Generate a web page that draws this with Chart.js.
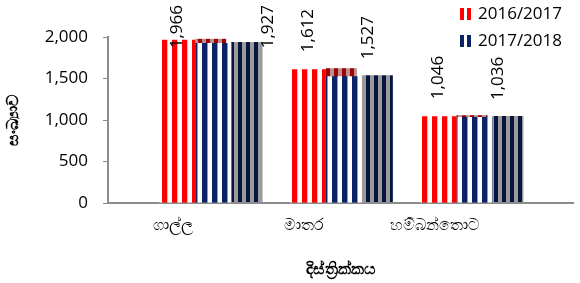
<!DOCTYPE html>
<html>
<head>
<meta charset="utf-8">
<script src="https://cdn.jsdelivr.net/npm/chart.js@4"></script>
<style>
  html, body { margin: 0; padding: 0; background: #fff; }
  #wrap { width: 580px; height: 283px; }
</style>
</head>
<body>
<div id="wrap"><canvas id="distChart" width="580" height="283"></canvas></div>
<script>
const districts = ['ගාල්ල', 'මාතර', 'හම්බන්තොට'];
const seriesNames = ['2016/2017', '2017/2018'];
const values2016 = [1966, 1612, 1046];
const values2017 = [1927, 1527, 1036];
const yTicks = [0, 500, 1000, 1500, 2000];

const yTitle = 'සංඛ්‍යාව';
const xTitle = 'දිස්ත්‍රික්කය';

const FONT = '"Open Sans", "Noto Sans", sans-serif';
const RED = '#ff0000';
const NAVY = '#0a2366';

// vertical stripe pattern, like the excel fill. cols = one colour per pixel column
function stripes(cols) {
    const c = document.createElement('canvas');
    c.width = cols.length;
    c.height = 4;
    const g = c.getContext('2d');
    cols.forEach((col, i) => {
        g.fillStyle = col;
        g.fillRect(i, 0, 1, 4);
    });
    return g.createPattern(c, 'repeat');
}

const ctx = document.getElementById('distChart').getContext('2d');

const P = '#ffb0b0', W = '#ffffff', R = RED, N = NAVY, B = '#8f9ab8';
const frontFill = [
    stripes([R, R, R, R, R, P, W, W, W, W]),
    stripes([N, N, N, N, N, B, W, W, W, W])
];
const DR = '#a30000', GR = '#b89090', DN = '#061640', G = '#9b9b9b';
const sideFill = [stripes([DR, DR, DR, DR, GR, GR, GR, GR]), stripes([DN, DN, DN, DN, G, G, G, G])];

const SHIFT = 22;   // 3d offset of the bars to the right
const DEPTH = 31;   // width of the side faces

const bars3d = {
    id: 'bars3d',
    beforeDatasetsDraw(chart) {
        const c = chart.ctx;
        const base = chart.scales.y.getPixelForValue(0);
        c.save();
        c.translate(SHIFT, 0);
        chart.data.datasets.forEach((ds, di) => {
            chart.getDatasetMeta(di).data.forEach(bar => {
                const right = bar.x + bar.width / 2;
                c.fillStyle = sideFill[di];
                c.fillRect(right, bar.y - 1, DEPTH, base - bar.y);
            });
        });
    },
    afterDatasetsDraw(chart) {
        const c = chart.ctx;
        c.font = '17px ' + FONT;
        c.fillStyle = '#000';
        c.textAlign = 'left';
        c.textBaseline = 'middle';
        chart.data.datasets.forEach((ds, di) => {
            chart.getDatasetMeta(di).data.forEach((bar, i) => {
                const txt = ds.data[i].y.toLocaleString('en-US');
                const w = c.measureText(txt).width;
                const clamped = bar.y - 17 < 5 + w;
                const bottom = clamped ? 5 + w : bar.y - 17;
                let x = bar.x;
                if (di === 1) x += clamped ? bar.width / 2 + DEPTH + 6 : 24;
                c.save();
                c.translate(x, bottom);
                c.rotate(-Math.PI / 2);
                c.fillText(txt, 0, 0);
                c.restore();
            });
        });
        c.restore();
    },
    afterDraw(chart) {
        // legend, top right
        const c = chart.ctx;
        const rows = [14, 41];
        c.save();
        c.font = '17px ' + FONT;
        c.textBaseline = 'middle';
        c.textAlign = 'left';
        chart.data.datasets.forEach((ds, di) => {
            const y = rows[di];
            c.fillStyle = ds.legendColor;
            c.fillRect(460, y - 6, 4, 12);
            c.fillRect(467, y - 6, 4, 12);
            c.fillStyle = '#000';
            c.fillText(ds.label, 478, y);
        });
        c.restore();
    }
};

const chart = new Chart(ctx, {
    type: 'bar',
    data: {
        datasets: [{
            label: seriesNames[0],
            data: values2016.map((v, i) => ({ x: i, y: v })),
            backgroundColor: frontFill[0],
            legendColor: RED
        }, {
            label: seriesNames[1],
            data: values2017.map((v, i) => ({ x: i, y: v })),
            backgroundColor: frontFill[1],
            legendColor: NAVY
        }]
    },
    options: {
        responsive: false,
        animation: false,
        categoryPercentage: 0.55,
        barPercentage: 1,
        layout: { padding: { left: 0, right: 7, top: 37, bottom: 0 } },
        plugins: {
            legend: { display: false },
            tooltip: { enabled: false }
        },
        scales: {
            x: {
                type: 'linear',
                min: -0.5,
                max: 3.06,
                offset: false,
                afterBuildTicks: scale => {
                    scale.ticks = districts.map((d, i) => ({ value: i }));
                },
                afterFit: scale => { scale.height = 80; },
                grid: { display: false, drawTicks: false },
                border: { display: true, color: '#8c8c8c', width: 2 },
                ticks: {
                    padding: 13,
                    maxRotation: 0,
                    autoSkip: false,
                    color: '#000',
                    font: { family: FONT, size: 16 },
                    callback: v => districts[v]
                },
                title: {
                    display: true,
                    text: xTitle,
                    color: '#000',
                    font: { family: FONT, size: 16, weight: 'bold' },
                    padding: { top: 0, bottom: 4 }
                }
            },
            y: {
                min: 0,
                max: 2000,
                afterBuildTicks: scale => {
                    scale.ticks = yTicks.map(v => ({ value: v }));
                },
                afterFit: scale => { scale.width = 108; },
                grid: { drawOnChartArea: false, drawTicks: true, tickLength: 5, color: '#8c8c8c', lineWidth: 1 },
                border: { display: true, color: '#8c8c8c', width: 2 },
                ticks: {
                    padding: 15,
                    color: '#000',
                    font: { family: FONT, size: 17 }
                },
                title: {
                    display: true,
                    text: yTitle,
                    color: '#000',
                    font: { family: FONT, size: 16, weight: 'bold' },
                    padding: { top: 4, bottom: 0 }
                }
            }
        }
    },
    plugins: [bars3d]
});
</script>
</body>
</html>
